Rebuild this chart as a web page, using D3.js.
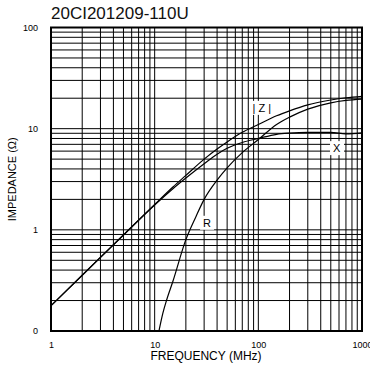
<!DOCTYPE html>
<html>
<head>
<meta charset="utf-8">
<script src="https://cdn.jsdelivr.net/npm/d3@7"></script>
<style>
  body { margin: 0; background: #fff; }
  text { font-family: "Liberation Sans", Arial, sans-serif; }
</style>
</head>
<body>
<script>
var freq = [1, 2, 5, 10, 15, 20, 30, 40, 50, 70, 100, 150, 200, 300, 500, 700, 1000];
var zMag = [0.178, 0.356, 0.89, 1.78, 2.65, 3.45, 5.0, 6.3, 7.4, 9.2, 11.0, 13.4, 15.0, 17.2, 19.2, 20.2, 20.9];
var xReact = [0.178, 0.356, 0.89, 1.76, 2.55, 3.25, 4.5, 5.6, 6.4, 7.3, 8.0, 8.8, 9.05, 9.2, 9.2, 8.9, 9.1];
var rFreq = [11, 12, 13, 15, 20, 25, 30, 40, 50, 70, 100, 150, 200, 300, 500, 700, 1000];
var rVal = [0.1, 0.15, 0.2, 0.31, 0.8, 1.35, 2.0, 3.1, 4.1, 5.8, 7.8, 11.0, 13.0, 15.6, 18.0, 19.0, 19.6];

var xTicks = [1, 10, 100, 1000];
var xTickLabels = ["1", "10", "100", "1000"];
var yTicks = [0.1, 1, 10, 100];
var yTickLabels = ["0", "1", "10", "100"];

function main(){
	var w = 370, h = 371;
	var mLeft = 51, mRight = 362, mTop = 27.5, mBottom = 331;

	var svg = d3.select("body").append("svg").attr("width", w).attr("height", h);

	var xScale = d3.scaleLog().domain([1, 1000]).range([mLeft, mRight]);
	var yScale = d3.scaleLog().domain([0.1, 100]).range([mBottom, mTop]);

	// minor grid values, 1..9 in every decade
	function minors(lo, hi){
		var out = [];
		for(var d = lo; d < hi * 0.999; d *= 10){
			for(var k = 1; k <= 9; k++) out.push(d * k);
		}
		out.push(hi);
		return out;
	}
	var xGrid = minors(1, 1000);
	var yGrid = minors(0.1, 100);

	var grid = svg.append("g").attr("stroke", "#000").attr("stroke-width", 1);
	grid.selectAll(".vg").data(xGrid).enter().append("line")
		.attr("x1", function(d){ return xScale(d); })
		.attr("x2", function(d){ return xScale(d); })
		.attr("y1", mTop).attr("y2", mBottom);
	grid.selectAll(".hg").data(yGrid).enter().append("line")
		.attr("y1", function(d){ return yScale(d); })
		.attr("y2", function(d){ return yScale(d); })
		.attr("x1", mLeft).attr("x2", mRight);

	svg.append("rect").attr("x", mLeft).attr("y", mTop)
		.attr("width", mRight - mLeft).attr("height", mBottom - mTop)
		.attr("fill", "none").attr("stroke", "#000").attr("stroke-width", 2);

	// axes (labels only)
	var xAxis = d3.axisBottom(xScale).tickValues(xTicks).tickSize(0).tickPadding(11)
		.tickFormat(function(d, i){ return xTickLabels[i]; });
	var gx = svg.append("g").attr("transform", "translate(0," + mBottom + ")").call(xAxis);
	gx.select(".domain").remove();
	gx.selectAll("text").attr("font-size", 9).attr("fill", "#000").attr("font-family", "Liberation Sans, Arial, sans-serif");

	var yAxis = d3.axisLeft(yScale).tickValues(yTicks).tickSize(0).tickPadding(13)
		.tickFormat(function(d, i){ return yTickLabels[i]; });
	var gy = svg.append("g").attr("transform", "translate(" + mLeft + ",0)").call(yAxis);
	gy.select(".domain").remove();
	gy.selectAll("text").attr("font-size", 9).attr("fill", "#000").attr("font-family", "Liberation Sans, Arial, sans-serif");

	// curves
	var line = d3.line().curve(d3.curveMonotoneX)
		.x(function(d){ return xScale(d[0]); })
		.y(function(d){ return yScale(d[1]); });

	var series = [
		d3.zip(freq, zMag),
		d3.zip(freq, xReact),
		d3.zip(rFreq, rVal)
	];
	svg.selectAll(".curve").data(series).enter().append("path")
		.attr("d", line).attr("fill", "none").attr("stroke", "#000").attr("stroke-width", 1.2);

	// curve labels with white boxes
	var labels = [
		{t: "| Z |", f: 108, v: 16},
		{t: "X", f: 570, v: 6.4},
		{t: "R", f: 32, v: 1.17}
	];
	labels.forEach(function(l){
		var g = svg.append("g").attr("transform", "translate(" + xScale(l.f) + "," + yScale(l.v) + ")");
		var t = g.append("text").attr("text-anchor", "middle").attr("dy", "0.35em")
			.attr("font-size", 11).text(l.t);
		var bb = t.node().getBBox();
		g.insert("rect", "text").attr("x", bb.x - 3).attr("y", bb.y - 1)
			.attr("width", bb.width + 6).attr("height", bb.height + 2).attr("fill", "#fff");
	});

	svg.append("text").attr("x", mLeft).attr("y", 19).attr("font-size", 17).attr("fill", "#111")
		.text("20CI201209-110U");

	svg.append("text").attr("x", 206).attr("y", 360).attr("text-anchor", "middle")
		.attr("font-size", 12).text("FREQUENCY (MHz)");

	svg.append("text").attr("transform", "translate(16," + ((mTop + mBottom) / 2) + ") rotate(-90)")
		.attr("text-anchor", "middle").attr("font-size", 11).text("IMPEDANCE (Ω)");
}

main();
</script>
</body>
</html>
